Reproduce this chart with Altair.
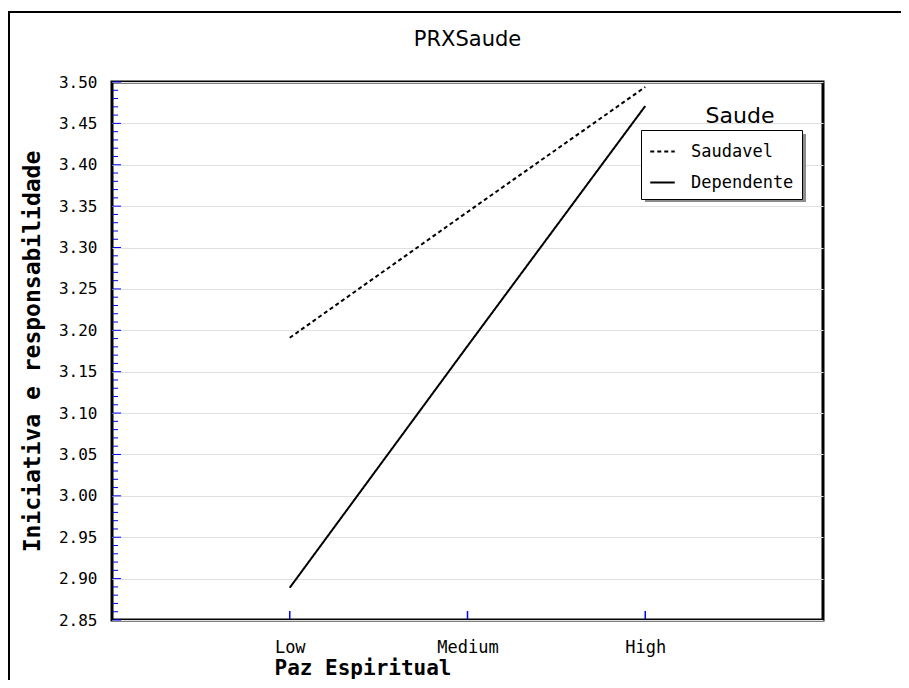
import altair as alt
import pandas as pd

chart_title = "PRXSaude"
legend_heading = "Saude"
categories = ["Low", "Medium", "High"]
series_names = ["Saudavel", "Dependente"]
saudavel = [3.191, 3.343, 3.494]
dependente = [2.889, 3.181, 3.471]

y_major = [2.85, 2.90, 2.95, 3.00, 3.05, 3.10, 3.15, 3.20, 3.25, 3.30, 3.35, 3.40, 3.45, 3.50]
y_minor = [2.86, 2.87, 2.88, 2.89, 2.91, 2.92, 2.93, 2.94, 2.96, 2.97, 2.98, 2.99,
           3.01, 3.02, 3.03, 3.04, 3.06, 3.07, 3.08, 3.09, 3.11, 3.12, 3.13, 3.14,
           3.16, 3.17, 3.18, 3.19, 3.21, 3.22, 3.23, 3.24, 3.26, 3.27, 3.28, 3.29,
           3.31, 3.32, 3.33, 3.34, 3.36, 3.37, 3.38, 3.39, 3.41, 3.42, 3.43, 3.44,
           3.46, 3.47, 3.48, 3.49]

rows = []
for name, vals in zip(series_names, [saudavel, dependente]):
    for c, v in zip(categories, vals):
        rows.append({"cat": c, "value": v, "series": name})
df = pd.DataFrame(rows)

W, H = 711, 538
MONO = "DejaVu Sans Mono"
BLUE = "#0000ff"

yscale = alt.Scale(domain=[2.85, 3.50], nice=False, zero=False)
xscale = alt.Scale(type="point", padding=1, domain=categories)

x_axis = alt.Axis(title="Paz Espiritual", labelAngle=0, ticks=False, domain=False, grid=False,
                  labelFont=MONO, labelFontSize=17, labelPadding=19, labelColor="black",
                  titleFont=MONO, titleFontSize=21, titleFontWeight="bold", titleColor="black",
                  titleAnchor="start", titleX=162, titleY=54, titleBaseline="alphabetic")
y_axis = alt.Axis(title="Iniciativa e responsabilidade", values=y_major, format=".2f",
                  ticks=False, domain=False, grid=True, gridColor="#e0e0e0", gridWidth=1,
                  labelFont=MONO, labelFontSize=16, labelPadding=15, labelColor="black",
                  titleFont=MONO, titleFontSize=23, titleFontWeight="bold", titleColor="black",
                  titlePadding=14)

lines = alt.Chart(df).mark_line(color="black", strokeWidth=2).encode(
    x=alt.X("cat:N", scale=xscale, sort=categories, axis=x_axis),
    y=alt.Y("value:Q", scale=yscale, axis=y_axis),
    strokeDash=alt.StrokeDash("series:N",
                              scale=alt.Scale(domain=series_names, range=[[4, 3], [1, 0]]),
                              legend=alt.Legend(title=None, orient="none", legendX=529, legendY=48,
                                                strokeColor="black", fillColor="white", padding=8,
                                                labelFont=MONO, labelFontSize=17, labelColor="black",
                                                symbolType="stroke", symbolSize=600, symbolStrokeWidth=2,
                                                symbolStrokeColor="black", rowPadding=9, labelOffset=15)),
    detail="series:N",
)

minor_ticks = alt.Chart(pd.DataFrame({"value": y_minor})).mark_rule(color=BLUE, strokeWidth=1).encode(
    y=alt.Y("value:Q", scale=yscale, axis=y_axis), x=alt.value(1), x2=alt.value(6))
major_ticks = alt.Chart(pd.DataFrame({"value": y_major})).mark_rule(color=BLUE, strokeWidth=1).encode(
    y=alt.Y("value:Q", scale=yscale, axis=y_axis), x=alt.value(1), x2=alt.value(9))
x_ticks = alt.Chart(pd.DataFrame({"cat": categories})).mark_rule(color=BLUE, strokeWidth=1.5).encode(
    x=alt.X("cat:N", scale=xscale, sort=categories, axis=x_axis), y=alt.value(H - 1), y2=alt.value(H - 9))

legend_title = alt.Chart(pd.DataFrame({"t": [legend_heading]})).mark_text(
    font="DejaVu Sans", fontSize=22, color="black", align="center", baseline="middle").encode(
    text="t:N", x=alt.value(628), y=alt.value(34))

legend_shadow = alt.Chart(pd.DataFrame({"a": [0]})).mark_rect(color="#8c8c8c").encode(
    x=alt.value(533), x2=alt.value(694), y=alt.value(52), y2=alt.value(120))

title_text = alt.Chart(pd.DataFrame({"t": [chart_title]})).mark_text(
    font="DejaVu Sans", fontSize=21, color="black", align="center", baseline="alphabetic").encode(
    text="t:N", x=alt.value(W / 2), y=alt.value(-36))

frame_top = alt.Chart(pd.DataFrame({"a": [0]})).mark_rule(color="black", strokeWidth=2).encode(
    x=alt.value(-104), x2=alt.value(820), y=alt.value(-70))
frame_left = alt.Chart(pd.DataFrame({"a": [0]})).mark_rule(color="black", strokeWidth=2).encode(
    x=alt.value(-103), y=alt.value(-71), y2=alt.value(640))

chart = alt.layer(lines, minor_ticks, major_ticks, x_ticks, legend_shadow, legend_title,
                  title_text, frame_top, frame_left).properties(
    width=W, height=H,
    autosize=alt.AutoSizeParams(type="none"),
    padding={"left": 104, "top": 74, "right": 78, "bottom": 60},
).configure_view(stroke="black", strokeWidth=3)

chart.save("out.html", embed_options={"renderer": "svg", "actions": False})
